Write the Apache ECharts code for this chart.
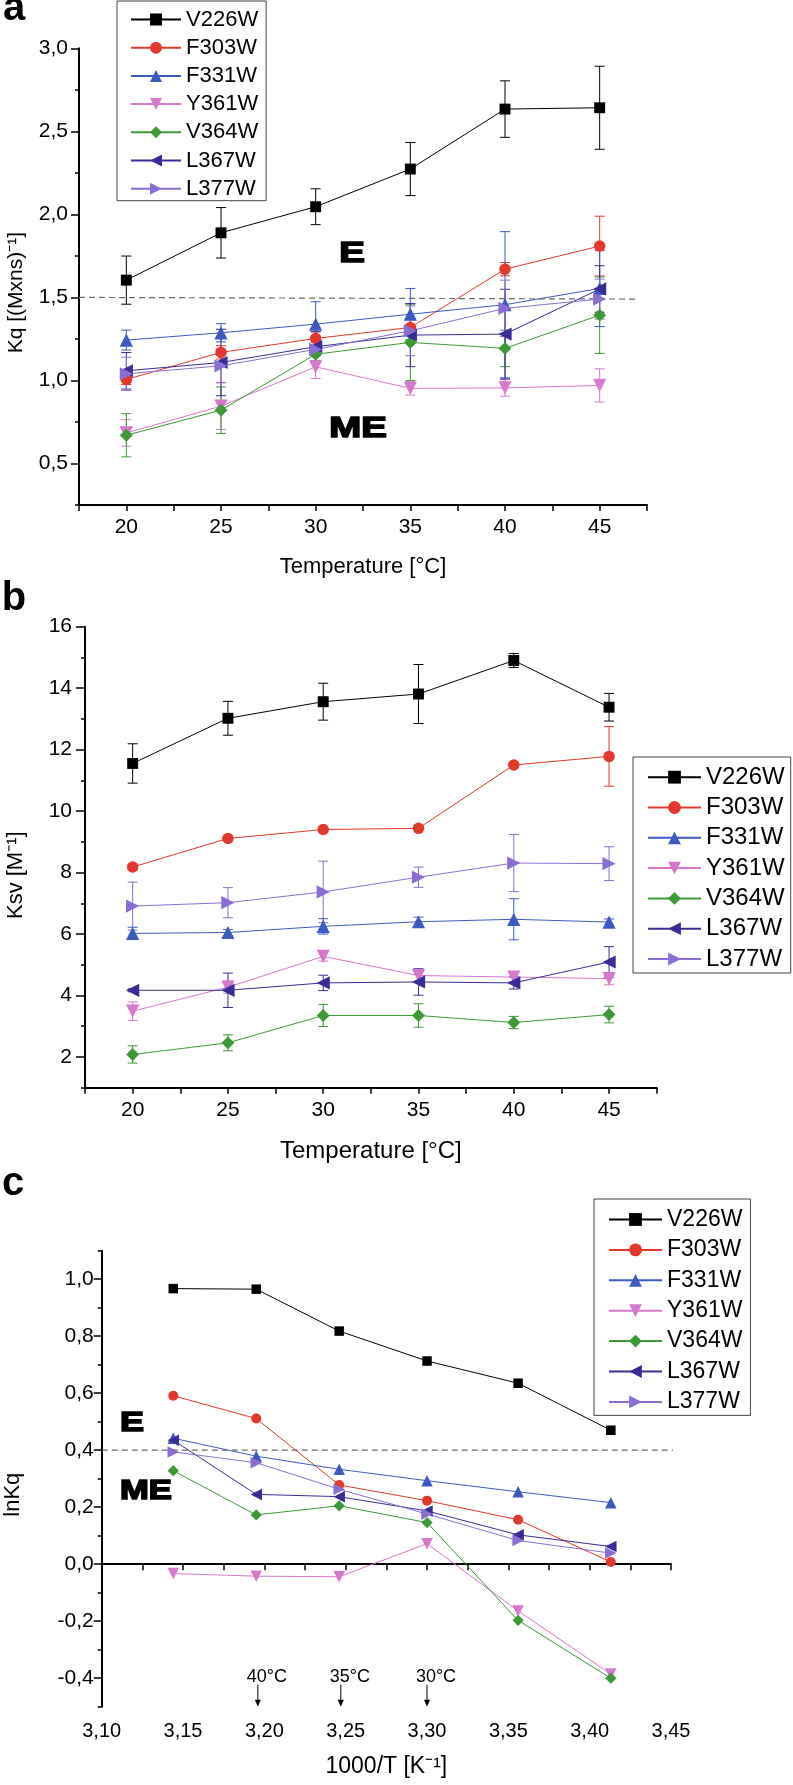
<!DOCTYPE html>
<html>
<head>
<meta charset="utf-8">
<script src="https://cdn.jsdelivr.net/npm/echarts@6/dist/echarts.min.js"></script>
<style>
  html, body { margin: 0; padding: 0; background: #fff; }
  #chart { width: 793px; height: 1785px; }
</style>
</head>
<body>
<div id="chart"></div>
<script>
// mutant names, in legend order
const mutants = ["V226W", "F303W", "F331W", "Y361W", "V364W", "L367W", "L377W"];

// panel a / b x values
const tempC = [20, 25, 30, 35, 40, 45];

// panel a: Kq [(M x ns)^-1]
const kqV226W = [1.604, 1.889, 2.046, 2.273, 2.634, 2.642];
const kqF303W = [1.006, 1.169, 1.253, 1.319, 1.670, 1.809];
const kqF331W = [1.243, 1.287, 1.339, 1.399, 1.456, 1.554];
const kqY361W = [0.684, 0.845, 1.082, 0.952, 0.955, 0.970];
const kqV364W = [0.670, 0.821, 1.158, 1.229, 1.193, 1.393];
const kqL367W = [1.058, 1.108, 1.203, 1.273, 1.279, 1.551];
const kqL377W = [1.040, 1.088, 1.187, 1.299, 1.434, 1.490];

const kqErrV226W = [0.145, 0.152, 0.108, 0.16, 0.17, 0.25];
const kqErrF303W = [0.03, 0.04, 0.04, 0.05, 0.04, 0.18];
const kqErrF331W = [0.06, 0.055, 0.135, 0.155, 0.44, 0.23];
const kqErrY361W = [0.08, 0.14, 0.07, 0.04, 0.05, 0.10];
const kqErrV364W = [0.13, 0.14, 0.04, 0.23, 0.11, 0.23];
const kqErrL367W = [0.11, 0.20, 0.09, 0.19, 0.27, 0.14];
const kqErrL377W = [0.10, 0.10, 0.04, 0.15, 0.17, 0.12];

const kqThreshold = [[17.5, 1.5], [47, 1.49]];

// panel b: Ksv [M^-1]
const ksvV226W = [11.55, 13.02, 13.56, 13.81, 14.90, 13.38];
const ksvF303W = [8.18, 9.11, 9.40, 9.44, 11.50, 11.78];
const ksvF331W = [6.02, 6.05, 6.25, 6.40, 6.48, 6.39];
const ksvY361W = [3.49, 4.27, 5.27, 4.65, 4.60, 4.55];
const ksvV364W = [2.08, 2.46, 3.35, 3.35, 3.12, 3.38];
const ksvL367W = [4.17, 4.17, 4.41, 4.44, 4.41, 5.09];
const ksvL377W = [6.91, 7.02, 7.37, 7.85, 8.31, 8.29];

const ksvErrV226W = [0.64, 0.55, 0.60, 0.96, 0.23, 0.45];
const ksvErrF303W = [0.10, 0.05, 0.05, 0.05, 0.05, 0.97];
const ksvErrF331W = [0.20, 0.10, 0.25, 0.15, 0.67, 0.10];
const ksvErrY361W = [0.30, 0.20, 0.15, 0.20, 0.15, 0.20];
const ksvErrV364W = [0.28, 0.26, 0.36, 0.38, 0.20, 0.27];
const ksvErrL367W = [0.05, 0.56, 0.25, 0.43, 0.20, 0.50];
const ksvErrL377W = [0.78, 0.49, 1.00, 0.33, 0.93, 0.55];

// panel c: lnKq vs 1000/T
const invT = [3.144, 3.195, 3.246, 3.300, 3.356, 3.413];
const lnV226W = [0.967, 0.965, 0.818, 0.713, 0.635, 0.470];
const lnF303W = [0.591, 0.511, 0.278, 0.223, 0.156, 0.008];
const lnF331W = [0.442, 0.379, 0.333, 0.293, 0.254, 0.216];
const lnY361W = [-0.033, -0.042, -0.044, 0.072, -0.164, -0.385];
const lnV364W = [0.328, 0.173, 0.205, 0.146, -0.197, -0.400];
const lnL367W = [0.435, 0.245, 0.237, 0.187, 0.103, 0.062];
const lnL377W = [0.394, 0.356, 0.263, 0.176, 0.083, 0.039];

const lnThreshold = [[3.10, 0.4], [3.472, 0.4]];
const arrowX = [3.196, 3.247, 3.300];
const arrowLabels = ["40°C", "35°C", "30°C"];

// tick label values
const kqMajorTicks = [0.5, 1.0, 1.5, 2.0, 2.5, 3.0];
const ksvMajorTicks = [2, 4, 6, 8, 10, 12, 14, 16];
const lnMajorTicks = [-0.4, -0.2, 0, 0.2, 0.4, 0.6, 0.8, 1.0];

const COLORS = ["#000000", "#e3382b", "#3b5bc0", "#d878cc", "#3b9a34", "#3a2c98", "#8a6ed3"];
const SYMBOLS = ["rect", "circle", "triangle", "triangle", "diamond", "triangle", "triangle"];
const ROTATES = [0, 0, 0, 180, 0, 90, -90];
const SIZE_K = [0.95, 1, 1.15, 1.15, 1.12, 1.15, 1.15];
const FAMILY = '"Liberation Sans", Arial, sans-serif';

const panels = [
  { x: tempC, y: [kqV226W, kqF303W, kqF331W, kqY361W, kqV364W, kqL367W, kqL377W],
    err: [kqErrV226W, kqErrF303W, kqErrF331W, kqErrY361W, kqErrV364W, kqErrL367W, kqErrL377W], size: 11.5 },
  { x: tempC, y: [ksvV226W, ksvF303W, ksvF331W, ksvY361W, ksvV364W, ksvL367W, ksvL377W],
    err: [ksvErrV226W, ksvErrF303W, ksvErrF331W, ksvErrY361W, ksvErrV364W, ksvErrL367W, ksvErrL377W], size: 11.5 },
  { x: invT, y: [lnV226W, lnF303W, lnF331W, lnY361W, lnV364W, lnL367W, lnL377W], err: null, size: 10 },
];

const decimalComma = (v, d) => v.toFixed(d).replace(".", ",");
const isMultiple = (v, step) => Math.abs(v / step - Math.round(v / step)) < 1e-6;

function errorBars(color, xs, ys, errs, gi) {
  return {
    type: "custom",
    name: "err",
    xAxisIndex: gi,
    yAxisIndex: gi * 2,
    silent: true,
    z: 2,
    data: xs.map((x, k) => [x, ys[k], errs[k]]),
    encode: { x: 0, y: 1 },
    renderItem(params, api) {
      const x = api.value(0), y = api.value(1), e = api.value(2);
      const hi = api.coord([x, y + e]);
      const lo = api.coord([x, y - e]);
      const cap = 5;
      const st = { stroke: color, lineWidth: 1 };
      return {
        type: "group",
        children: [
          { type: "line", shape: { x1: hi[0], y1: hi[1], x2: lo[0], y2: lo[1] }, style: st },
          { type: "line", shape: { x1: hi[0] - cap, y1: hi[1], x2: hi[0] + cap, y2: hi[1] }, style: st },
          { type: "line", shape: { x1: lo[0] - cap, y1: lo[1], x2: lo[0] + cap, y2: lo[1] }, style: st },
        ],
      };
    },
  };
}

const series = [];
panels.forEach((p, gi) => {
  mutants.forEach((name, i) => {
    if (p.err) series.push(errorBars(COLORS[i], p.x, p.y[i], p.err[i], gi));
  });
  mutants.forEach((name, i) => {
    series.push({
      type: "line",
      name,
      xAxisIndex: gi,
      yAxisIndex: gi * 2,
      data: p.x.map((x, k) => [x, p.y[i][k]]),
      symbol: SYMBOLS[i],
      symbolRotate: ROTATES[i],
      symbolSize: p.size * SIZE_K[i],
      lineStyle: { color: COLORS[i], width: 1 },
      itemStyle: { color: COLORS[i] },
      z: 3,
    });
  });
});

const dashStyle = { color: "#6a6a6a", width: 1.2, type: [6, 4] };
series.push({
  type: "line", name: "threshold-a", xAxisIndex: 0, yAxisIndex: 0,
  data: kqThreshold, symbol: "none", lineStyle: dashStyle, z: 1, silent: true,
});
series.push({
  type: "line", name: "threshold-c", xAxisIndex: 2, yAxisIndex: 4, clip: false,
  data: lnThreshold, symbol: "none", lineStyle: dashStyle, z: 1, silent: true,
});
series.push({
  type: "custom", name: "arrows", xAxisIndex: 2, yAxisIndex: 4, silent: true, clip: false,
  data: arrowX.map((x, k) => [x, -0.5, k]),
  encode: { x: 0, y: 1 },
  renderItem(params, api) {
    const p = api.coord([api.value(0), api.value(1)]);
    const label = arrowLabels[api.value(2)];
    return {
      type: "group",
      children: [
        { type: "line", shape: { x1: p[0], y1: p[1] - 22, x2: p[0], y2: p[1] - 6 },
          style: { stroke: "#000", lineWidth: 1 } },
        { type: "polygon", shape: { points: [[p[0] - 3, p[1] - 7], [p[0] + 3, p[1] - 7], [p[0], p[1]]] },
          style: { fill: "#000" } },
        { type: "text", x: p[0] + 9, y: p[1] - 30,
          style: { text: label, fill: "#000", fontSize: 18, fontFamily: '"Liberation Sans Narrow", "Liberation Sans", sans-serif',
                   textAlign: "center", textVerticalAlign: "middle" } },
      ],
    };
  },
});

function xAxis(gi, min, max, interval, step, digits, fontSize, margin, name, nameSize, nameGap) {
  return {
    type: "value", gridIndex: gi, min, max, interval, position: "bottom",
    axisLine: { lineStyle: { color: "#000", width: 2 } },
    axisTick: { length: 6, lineStyle: { color: "#000", width: 1.5 } },
    splitLine: { show: false },
    axisLabel: {
      margin, color: "#000", fontSize, fontFamily: FAMILY, showMinLabel: true, showMaxLabel: true,
      formatter: (v) => (isMultiple(v, step) ? (digits ? decimalComma(v, digits) : String(Math.round(v))) : ""),
    },
    name, nameLocation: "middle", nameGap,
    nameTextStyle: { color: "#000", fontSize: nameSize, fontFamily: FAMILY },
  };
}

function yAxes(gi, min, max, interval, majors, digits, fontSize, margin, majorLen, name, nameSize, nameGap, shift) {
  return [
    {
      type: "value", gridIndex: gi, min, max, interval, position: "left",
      axisLine: { show: true, lineStyle: { color: "#000", width: 2 } },
      axisTick: { length: 4, lineStyle: { color: "#000", width: 1.5 } },
      splitLine: { show: false },
      axisLabel: {
        margin, color: "#000", fontSize, fontFamily: FAMILY,
        formatter: (v) => (majors.some((m) => Math.abs(m - v) < 1e-6) ? (digits ? decimalComma(v, digits) : String(Math.round(v))) : ""),
      },
      name, nameLocation: "middle", nameRotate: 90, nameGap,
      nameTextStyle: { color: "#000", fontSize: nameSize, fontFamily: FAMILY, padding: [0, shift * 2, 0, 0] },
    },
    {
      type: "value", gridIndex: gi, min, max, position: "left",
      axisLine: { show: false },
      axisTick: { show: true, length: majorLen, customValues: majors, lineStyle: { color: "#000", width: 1.5 } },
      axisLabel: { show: false, customValues: majors },
      splitLine: { show: false },
    },
  ];
}

function legend(left, top, itemWidth, itemHeight, itemGap, fontSize, padding) {
  return {
    data: mutants, orient: "vertical", left, top, itemWidth, itemHeight, itemGap, padding,
    borderColor: "#444", borderWidth: 1, selectedMode: false,
    textStyle: { color: "#000", fontSize, fontFamily: FAMILY, lineHeight: fontSize - 1 },
  };
}

function text(content, x, y, fontSize, fontWeight, extra) {
  return {
    type: "text", x, y, ...extra,
    style: {
      text: content, fontSize, fontWeight, fontFamily: FAMILY, fill: "#000",
      textAlign: "center", textVerticalAlign: "middle",
    },
  };
}

function heavyText(content, x, y, size) {
  const el = text(content, x, y, size, "bold", { scaleX: 1.28 });
  el.style.stroke = "#000";
  el.style.lineWidth = 1.6;
  return el;
}

const option = {
  animation: false,
  backgroundColor: "#fff",
  textStyle: { fontFamily: FAMILY, color: "#000" },
  grid: [
    { left: 79, top: 48.3, width: 568, height: 456.7, containLabel: false, outerBoundsMode: "none" },
    { left: 85, top: 626.7, width: 571.7, height: 461, containLabel: false, outerBoundsMode: "none" },
    { left: 101.7, top: 1250.7, width: 569.3, height: 456, containLabel: false, outerBoundsMode: "none" },
  ],
  xAxis: [
    xAxis(0, 17.5, 47.5, 2.5, 5, 0, 21, 12, "Temperature [°C]", 22, 51),
    xAxis(1, 17.5, 47.5, 2.5, 5, 0, 21, 12, "Temperature [°C]", 24, 52),
    xAxis(2, 3.10, 3.45, 0.025, 0.05, 2, 20, 15, "1000/T [K⁻¹]", 23, 48),
  ],
  yAxis: [
    ...yAxes(0, 0.25, 3.0, 0.25, kqMajorTicks, 1, 21, 11, 8, "Kq [(Mxns)⁻¹]", 21, 52, 16),
    ...yAxes(1, 1, 16, 1, ksvMajorTicks, 0, 21, 13, 9, "Ksv [M⁻¹]", 22, 58, 18),
    ...yAxes(2, -0.5, 1.1, 0.1, lnMajorTicks, 1, 21, 8, 8, "lnKq", 22, 78, 16),
  ],
  legend: [
    legend(117, 1, 50, 15, 6.2, 22, [7.5, 8, 1, 13]),
    legend(633, 757, 53, 16, 6.3, 24, [8.2, 6, 2, 14]),
    legend(594, 1199, 53, 16, 7.4, 23, [9, 8, 2, 14]),
  ],
  graphic: [
    text("a", 14, 9, 40, "bold"),
    text("b", 14, 599, 40, "bold"),
    text("c", 13, 1184, 40, "bold"),
    heavyText("E", 352, 254, 30),
    heavyText("ME", 358, 429, 30),
    heavyText("E", 132, 1423, 28),
    heavyText("ME", 146, 1492, 27),
  ],
  series,
};

const chart = echarts.init(document.getElementById("chart"), null, { renderer: "canvas" });
chart.setOption(option);
</script>
</body>
</html>
